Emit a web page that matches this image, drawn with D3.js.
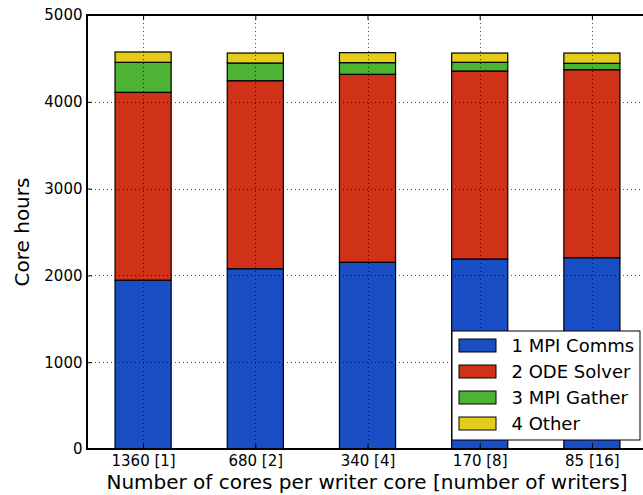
<!DOCTYPE html>
<html>
<head>
<meta charset="utf-8">
<script src="https://cdn.jsdelivr.net/npm/d3@7"></script>
<style>
  html, body { margin: 0; padding: 0; background: #fff; }
  svg { display: block; font-family: "DejaVu Sans", sans-serif; }
</style>
</head>
<body>
<svg id="chart" width="643" height="495"></svg>
<script>
// Core-hour breakdown per run configuration
const categories = ["1360 [1]", "680 [2]", "340 [4]", "170 [8]", "85 [16]"];
const seriesNames = ["1 MPI Comms", "2 ODE Solver", "3 MPI Gather", "4 Other"];
const mpiComms   = [1945, 2077, 2151, 2189, 2204];
const odeSolver  = [2164, 2166, 2166, 2166, 2166];
const mpiGather  = [346, 204, 134, 100, 74];
const other      = [119, 115, 115, 107, 118];
const seriesColors = ["#1a4ec4", "#cf3219", "#4db334", "#e3cc1a"];
const yTicks = [0, 1000, 2000, 3000, 4000, 5000];

const svg = d3.select("#chart");
const margin = { left: 87, top: 15, right: 648, bottom: 449 };

const rows = categories.map((c, i) => ({
  cat: c,
  "1 MPI Comms": mpiComms[i],
  "2 ODE Solver": odeSolver[i],
  "3 MPI Gather": mpiGather[i],
  "4 Other": other[i]
}));
const stacked = d3.stack().keys(seriesNames)(rows);

// Bars sit at integer positions with xlim [-0.5, 4.5]
const x = d3.scaleLinear().domain([-0.5, categories.length - 0.5]).range([margin.left, margin.right]);
const y = d3.scaleLinear().domain([0, 5000]).range([margin.bottom, margin.top]);
const barW = x(0.25) - x(-0.25);

const plot = svg.append("g");

stacked.forEach((layer, si) => {
  plot.append("g")
    .selectAll("rect")
    .data(layer)
    .join("rect")
    .attr("x", (d, i) => x(i) - barW / 2)
    .attr("width", barW)
    .attr("y", d => y(d[1]))
    .attr("height", d => y(d[0]) - y(d[1]))
    .attr("fill", seriesColors[si])
    .attr("stroke", "#000")
    .attr("stroke-width", 1.2);
});

// Dotted grid drawn above the bars
const grid = svg.append("g")
  .attr("stroke", "#000")
  .attr("stroke-width", 1)
  .attr("stroke-dasharray", "1,3")
  .attr("opacity", 0.7);
grid.selectAll("line.h")
  .data(yTicks.slice(1, -1))
  .join("line")
  .attr("x1", margin.left).attr("x2", margin.right)
  .attr("y1", d => Math.round(y(d)) + 0.5).attr("y2", d => Math.round(y(d)) + 0.5);
grid.selectAll("line.v")
  .data(categories.map((c, i) => i))
  .join("line")
  .attr("x1", d => Math.round(x(d)) + 0.5).attr("x2", d => Math.round(x(d)) + 0.5)
  .attr("y1", margin.top).attr("y2", margin.bottom);

// Axes with inward ticks on all four sides
const yAxisL = d3.axisLeft(y).tickValues(yTicks).tickSize(-5).tickPadding(4.5).tickFormat(d3.format("d"));
const yAxisR = d3.axisRight(y).tickValues(yTicks).tickSize(-5).tickFormat("");
const xAxisB = d3.axisBottom(x).tickValues(categories.map((c, i) => i)).tickSize(-5).tickPadding(6)
  .tickFormat(i => categories[i]);
const xAxisT = d3.axisTop(x).tickValues(categories.map((c, i) => i)).tickSize(-5).tickFormat("");

function styleAxis(g, fs) {
  g.select(".domain").remove();
  g.selectAll(".tick line").attr("stroke", "#000").attr("stroke-width", 1);
  g.selectAll(".tick text").attr("fill", "#000").style("font-size", fs + "px")
    .style("font-family", "DejaVu Sans, sans-serif");
}
svg.append("g").attr("transform", `translate(${margin.left},0)`).call(yAxisL).call(g => styleAxis(g, 15));
svg.append("g").attr("transform", `translate(${margin.right},0)`).call(yAxisR).call(g => styleAxis(g, 15));
svg.append("g").attr("transform", `translate(0,${margin.bottom})`).call(xAxisB).call(g => styleAxis(g, 15));
svg.append("g").attr("transform", `translate(0,${margin.top})`).call(xAxisT).call(g => styleAxis(g, 15));

// Frame
svg.append("rect")
  .attr("x", margin.left).attr("y", margin.top)
  .attr("width", margin.right - margin.left).attr("height", margin.bottom - margin.top)
  .attr("fill", "none").attr("stroke", "#000").attr("stroke-width", 2);

// Axis titles
svg.append("text")
  .attr("x", 367).attr("y", 489)
  .attr("text-anchor", "middle")
  .style("font-size", "20px")
  .text("Number of cores per writer core [number of writers]");
svg.append("text")
  .attr("transform", `translate(29,${(margin.top + margin.bottom) / 2}) rotate(-90)`)
  .attr("text-anchor", "middle")
  .style("font-size", "20px")
  .text("Core hours");

// Legend
const leg = svg.append("g").attr("transform", "translate(452,331)");
leg.append("rect").attr("width", 188).attr("height", 109)
  .attr("fill", "#fff").attr("stroke", "#000").attr("stroke-width", 1);
seriesNames.forEach((name, i) => {
  const ry = 8 + i * 26;
  leg.append("rect").attr("x", 7).attr("y", ry).attr("width", 37).attr("height", 13)
    .attr("fill", seriesColors[i]).attr("stroke", "#000").attr("stroke-width", 1);
  leg.append("text").attr("x", 59.5).attr("y", ry + 13)
    .style("font-size", "18px").text(name);
});
</script>
</body>
</html>
